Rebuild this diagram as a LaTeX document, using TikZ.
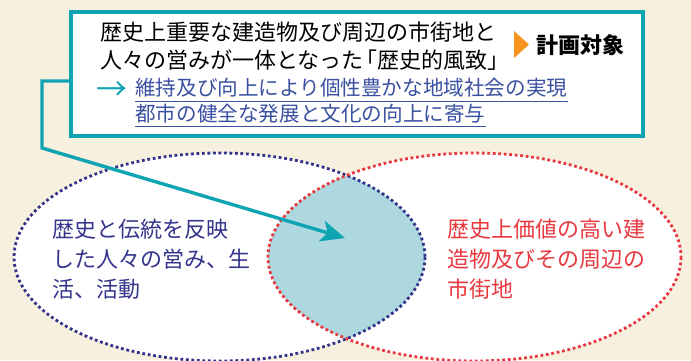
\documentclass[tikz,border=0pt]{standalone}
\usepackage{fontspec}
\usetikzlibrary{arrows.meta}
\newfontfamily\jp{Noto Sans CJK JP}
\definecolor{bgc}{RGB}{247,240,222}
\definecolor{teal1}{RGB}{14,164,178}
\definecolor{lensc}{RGB}{173,216,224}
\definecolor{navy1}{RGB}{52,52,140}
\definecolor{red1}{RGB}{232,56,64}
\definecolor{blue1}{RGB}{58,80,160}
\definecolor{orange1}{RGB}{247,148,29}
\tikzset{
  txt/.style={anchor=base west, inner sep=0pt, font=\jp\fontsize{22}{28}\selectfont},
  btxt/.style={txt, text=blue1, font=\jp\fontsize{20.6}{26}\selectfont},
  conn/.style={draw=teal1, line width=3.4pt, line join=miter},
  dots/.style={line width=2.8pt, dash pattern=on 2.8pt off 2.7pt},
}
\begin{document}
\begin{tikzpicture}[x=1pt,y=-1pt]
\useasboundingbox (0,0) rectangle (691,360);
\fill[bgc] (0,0) rectangle (691,360);
% ellipses
\fill[white] (219.5,257) ellipse [x radius=205.5, y radius=104];
\fill[white] (474.5,257) ellipse [x radius=206.5, y radius=104];
\begin{scope}
  \clip (219.5,257) ellipse [x radius=205.5, y radius=104];
  \fill[lensc] (474.5,257) ellipse [x radius=206.5, y radius=104];
\end{scope}
\draw[dots, navy1] (219.5,257) ellipse [x radius=205.5, y radius=104];
\draw[dots, red1] (474.5,257) ellipse [x radius=206.5, y radius=104];
% top box
\node[draw=teal1, line width=3.4pt, fill=white, minimum width=572pt, minimum height=124pt, inner sep=0pt] (box) at (357,74) {};
\node[txt] (t1) at (100,40) {歴史上重要な建造物及び周辺の市街地と};
\node[txt] (t2) at (100,68) {人々の営みが一体となった\kern-8pt「歴史的風致」};
\fill[orange1] (514,31) -- (529,44.5) -- (514,58) -- cycle;
\node[txt, font=\jp\bfseries\fontsize{22}{28}\selectfont] (t0) at (536,53) {計画対象};
\node[txt, text=teal1, font=\jp\fontsize{31}{32}\selectfont] (ar) at (96,100) {→};
\node[btxt] (l3) at (135,95) {維持及び向上により個性豊かな地域社会の実現};
\node[btxt] (l4) at (135,121) {都市の健全な発展と文化の向上に寄与};
\draw[blue1, line width=1pt] ([yshift=-6pt]l3.base west) -- ([yshift=-6pt]l3.base east);
\draw[blue1, line width=1pt] ([yshift=-5pt]l4.base west) -- ([yshift=-5pt]l4.base east);
% ellipse texts
\node[txt, text=navy1] (a1) at (52,237) {歴史と伝統を反映};
\node[txt, text=navy1] (a2) at (52,267) {した人々の営み、生};
\node[txt, text=navy1] (a3) at (52,297) {活、活動};
\node[txt, text=red1] (b1) at (447,237) {歴史上価値の高い建};
\node[txt, text=red1] (b2) at (447,267) {造物及びその周辺の};
\node[txt, text=red1] (b3) at (447,297) {市街地};
% connector
\coordinate (c1) at (42,81);
\coordinate (c2) at (42,148);
\coordinate (tip) at (345,238);
\draw[conn, -{Stealth[length=24pt, width=21pt, inset=6pt]}] (box.west |- c1) -- (c1) -- (c2) -- (tip);
\end{tikzpicture}
\end{document}
